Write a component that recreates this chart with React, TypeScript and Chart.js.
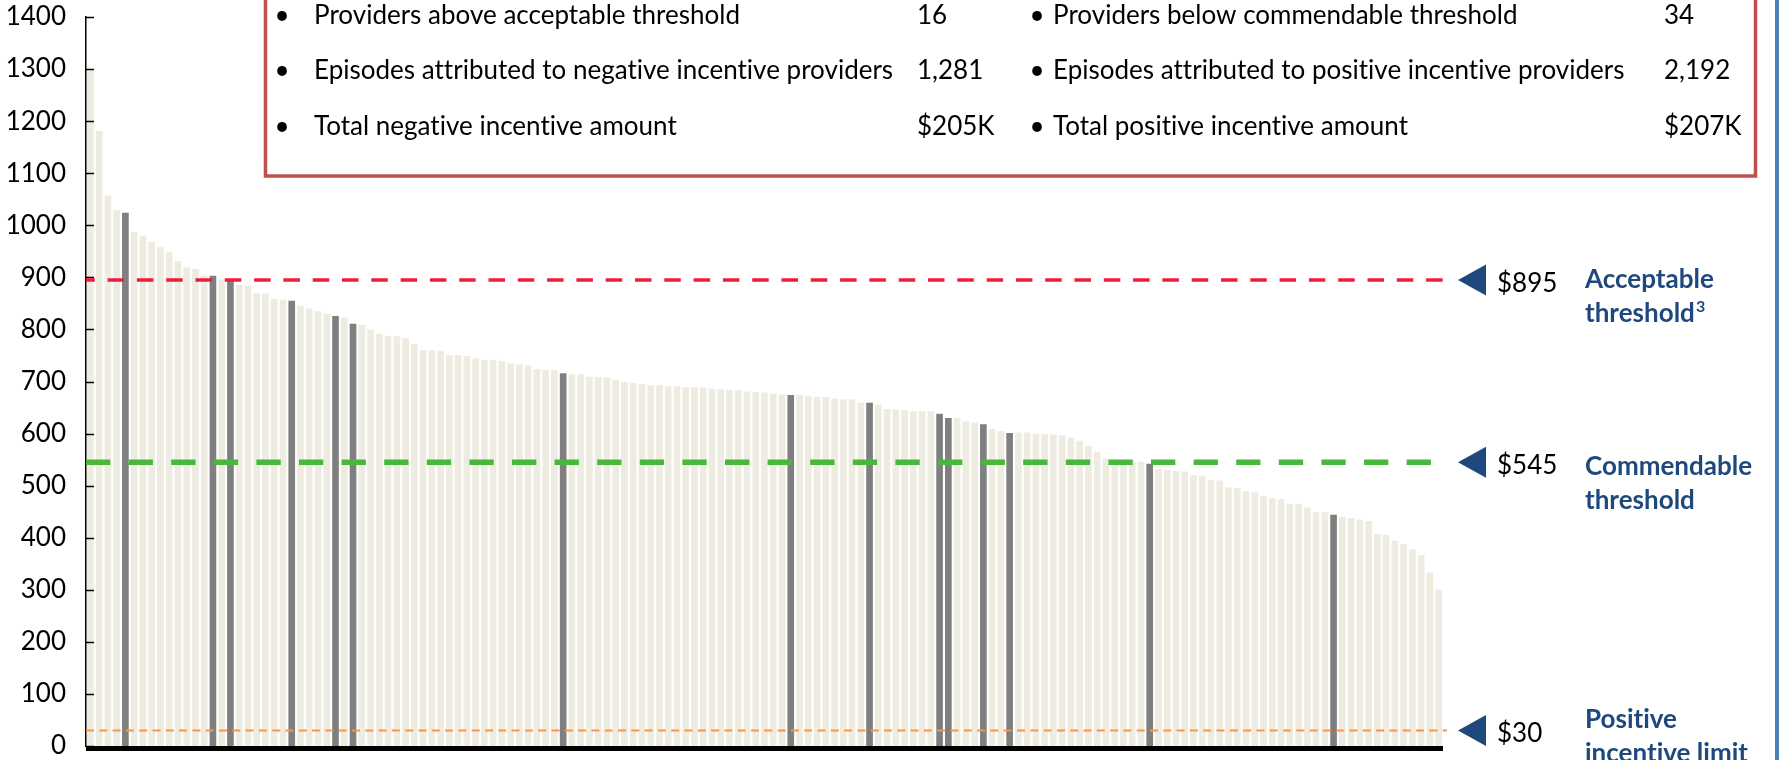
import React, { useEffect, useRef } from "react";
import { Chart, registerables } from "chart.js";

Chart.register(...registerables);

// Average episode cost per provider, sorted descending
const costs: number[] = [
  1298, 1181, 1057, 1029, 1024, 987, 980, 968, 958, 948,
  931, 919, 916, 903, 903, 896, 893, 886, 884, 869,
  869, 859, 857, 855, 846, 840, 835, 830, 826, 823,
  811, 809, 800, 791, 788, 787, 783, 772, 760, 760,
  759, 751, 751, 749, 744, 742, 742, 739, 735, 733,
  731, 724, 722, 722, 716, 714, 714, 709, 708, 708,
  703, 699, 697, 695, 693, 693, 691, 691, 689, 689,
  688, 686, 685, 684, 683, 681, 680, 679, 677, 675,
  674, 674, 672, 670, 670, 667, 666, 666, 659, 659,
  656, 647, 646, 645, 643, 643, 643, 638, 630, 630,
  623, 621, 618, 609, 605, 601, 602, 602, 600, 599,
  598, 597, 592, 586, 576, 565, 552, 549, 547, 547,
  546, 542, 532, 530, 528, 527, 520, 519, 511, 510,
  497, 495, 489, 488, 480, 476, 474, 465, 465, 458,
  449, 449, 444, 440, 438, 435, 432, 407, 405, 394,
  388, 378, 367, 333, 300,
];

const providers: string[] = costs.map((_, i) => `Provider ${i + 1}`);

// Indices of highlighted (dark) providers
const highlighted: number[] = [4, 14, 16, 23, 28, 30, 54, 80, 89, 97, 98, 102, 105, 121, 142];

const yMin = 0;
const yMax = 1400;
const yStep = 100;

const thresholdValues: number[] = [895, 545, 30];
const thresholdLabels: string[] = ["$895", "$545", "$30"];
const thresholdNames: string[][] = [
  ["Acceptable", "threshold"],
  ["Commendable", "threshold"],
  ["Positive", "incentive limit"],
];

const summaryLeft: string[] = [
  "Providers above acceptable threshold",
  "Episodes attributed to negative incentive providers",
  "Total negative incentive amount",
];
const summaryLeftValues: string[] = ["16", "1,281", "$205K"];
const summaryRight: string[] = [
  "Providers below commendable threshold",
  "Episodes attributed to positive incentive providers",
  "Total positive incentive amount",
];
const summaryRightValues: string[] = ["34", "2,192", "$207K"];

const FONT = "Lato";

const lineStyles = [
  { color: "#EE1D3D", width: 3.5, dash: [16.5, 12.8], offset: 7.7 },
  { color: "#47B83C", width: 5.5, dash: [24.3, 18.3], offset: 0 },
  { color: "#F79646", width: 2, dash: [8, 5.3], offset: 0 },
];
const nameOffsets = [8, 13, -2];

const overlay = {
  id: "overlay",
  afterDatasetsDraw(chart: any) {
    const { ctx, chartArea: ca, scales } = chart;
    const y = scales.y;
    ctx.save();
    try {
      (ctx as any).letterSpacing = "0.01px";
    } catch (e) {}

    // baseline (thick x axis)
    ctx.fillStyle = "#000";
    ctx.fillRect(ca.left, ca.bottom, ca.right - ca.left, 5);

    // inside tick marks on y axis
    ctx.strokeStyle = "#000";
    ctx.lineWidth = 1.5;
    y.ticks.forEach((t: any) => {
      const py = Math.round(y.getPixelForValue(t.value)) + 0.5;
      ctx.beginPath();
      ctx.moveTo(ca.left, py);
      ctx.lineTo(ca.left + 8, py);
      ctx.stroke();
    });

    // threshold lines, arrows, labels
    const lineEnd = 1447;
    thresholdValues.forEach((v, i) => {
      const py = y.getPixelForValue(v);
      const st = lineStyles[i];
      ctx.save();
      ctx.strokeStyle = st.color;
      ctx.lineWidth = st.width;
      ctx.setLineDash(st.dash);
      ctx.lineDashOffset = st.offset;
      ctx.beginPath();
      ctx.moveTo(ca.left, py);
      ctx.lineTo(lineEnd, py);
      ctx.stroke();
      ctx.restore();

      // arrow
      ctx.fillStyle = "#1F497D";
      ctx.beginPath();
      ctx.moveTo(1458, py);
      ctx.lineTo(1486, py - 15.5);
      ctx.lineTo(1486, py + 15.5);
      ctx.closePath();
      ctx.fill();

      // value label
      ctx.fillStyle = "#000";
      ctx.font = `26px ${FONT}`;
      ctx.textAlign = "left";
      ctx.textBaseline = "alphabetic";
      ctx.fillText(thresholdLabels[i], 1497, py + 12);

      // name labels
      ctx.fillStyle = "#1F497D";
      ctx.font = `bold 26px ${FONT}`;
      const b1 = py + nameOffsets[i];
      ctx.fillText(thresholdNames[i][0], 1585, b1);
      ctx.fillText(thresholdNames[i][1], 1585, b1 + 34);
      if (i === 0) {
        const w = ctx.measureText(thresholdNames[i][1]).width;
        ctx.font = `bold 16px ${FONT}`;
        ctx.fillText("3", 1585 + w + 1, b1 + 34 - 10);
      }
    });

    // summary box
    ctx.fillStyle = "#fff";
    ctx.fillRect(265.5, -10, 1490, 186);
    ctx.strokeStyle = "#C0504D";
    ctx.lineWidth = 3.5;
    ctx.strokeRect(265.5, -10, 1490, 186);

    ctx.fillStyle = "#000";
    ctx.font = `26px ${FONT}`;
    ctx.textBaseline = "alphabetic";
    const baselines = [23.5, 79, 134.5];
    baselines.forEach((by, r) => {
      ctx.textAlign = "center";
      ctx.fillText("•", 282, by);
      ctx.fillText("•", 1037, by);
      ctx.textAlign = "left";
      ctx.fillText(summaryLeft[r], 314, by);
      ctx.fillText(summaryLeftValues[r], 917, by);
      ctx.fillText(summaryRight[r], 1053, by);
      ctx.fillText(summaryRightValues[r], 1664, by);
    });

    // blue right frame line
    ctx.fillStyle = "#4F81BD";
    ctx.fillRect(1775, 0, 4, 760);

    ctx.restore();
  },
};

export default function App() {
  const canvasRef = useRef<HTMLCanvasElement | null>(null);

  useEffect(() => {
    const canvas = canvasRef.current;
    if (!canvas) return;
    const chart = new Chart(canvas, {
      type: "bar",
      data: {
        labels: providers,
        datasets: [
          {
            data: costs,
            backgroundColor: costs.map((_, i) => (highlighted.includes(i) ? "#7F7F7F" : "#EEECE1")),
            borderWidth: 0,
            categoryPercentage: 1,
            barPercentage: 0.76,
          },
        ],
      },
      options: {
        responsive: false,
        animation: false,
        events: [],
        layout: { padding: { left: 0, right: 336, top: 17, bottom: 14 } },
        plugins: {
          legend: { display: false },
          tooltip: { enabled: false },
          title: { display: false },
        },
        scales: {
          x: { display: false },
          y: {
            min: yMin,
            max: yMax,
            afterFit(scale: any) {
              scale.width = 86;
              scale.paddingTop = 0;
              scale.paddingBottom = 0;
            },
            ticks: {
              stepSize: yStep,
              font: { family: FONT, size: 26 },
              color: "#000",
              padding: 20,
              callback: (v: any) => String(v),
            },
            grid: { display: false, drawTicks: false },
            border: { display: true, color: "#000", width: 1.5 },
          },
        },
      },
      plugins: [overlay],
    } as any);
    return () => chart.destroy();
  }, []);

  return (
    <div style={{ position: "absolute", left: 0, top: 0, width: 1779, height: 760, background: "#fff" }}>
      <canvas ref={canvasRef} width={1779} height={760} />
    </div>
  );
}
